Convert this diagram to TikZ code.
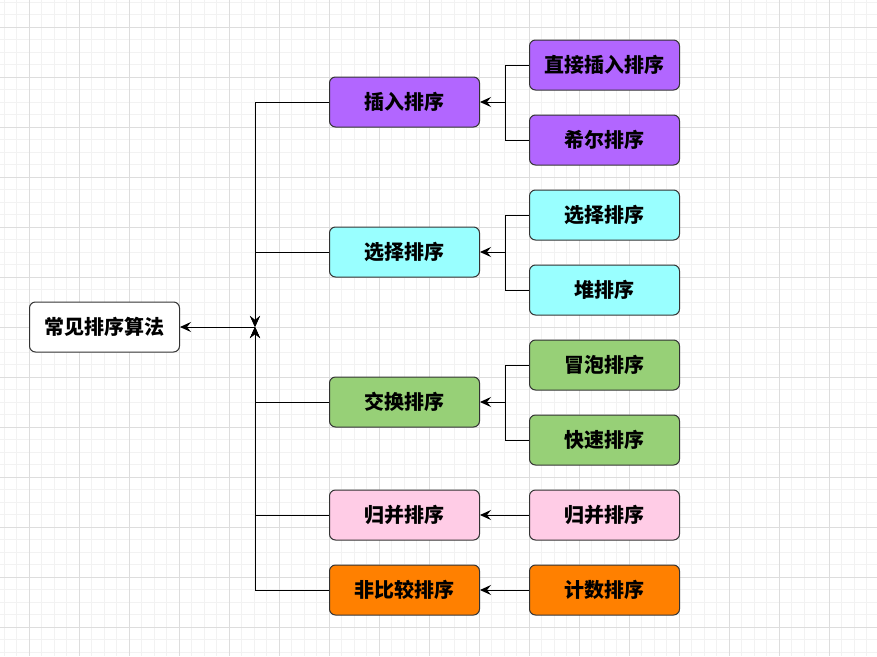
\documentclass[tikz,border=0pt]{standalone}
\usepackage{fontspec}
\newfontfamily\cjk{Noto Sans CJK SC}
\usetikzlibrary{arrows.meta}
\definecolor{gminor}{HTML}{F2F2F2}
\definecolor{gmajor}{HTML}{DDDDDD}
\definecolor{cpurple}{HTML}{B266FF}
\definecolor{ccyan}{HTML}{99FFFF}
\definecolor{cgreen}{HTML}{97D077}
\definecolor{cpink}{HTML}{FFCCE6}
\definecolor{corange}{HTML}{FF8000}
\definecolor{cborder}{HTML}{333333}
\tikzset{
  box/.style={draw=cborder, line width=1pt, rounded corners=6pt, minimum width=150pt, minimum height=50pt, inner sep=0pt, font=\cjk\bfseries\fontsize{20pt}{22pt}\selectfont, text=black},
  conn/.style={line width=1pt, draw=black, -{Stealth[length=11pt,width=10pt,inset=4pt]}},
  plain/.style={line width=1pt, draw=black}
}
\begin{document}
\begin{tikzpicture}[x=1pt,y=-1pt]
\useasboundingbox (0,0) rectangle (877,656);
\fill[white] (0,0) rectangle (877,656);
\foreach \i in {0,...,70} {
  \draw[gminor, line width=1pt] ({4+12.5*\i},0) -- ({4+12.5*\i},656);
}
\foreach \i in {0,...,53} {
  \draw[gminor, line width=1pt] (0,{2+12.5*\i}) -- (877,{2+12.5*\i});
}
\foreach \i in {0,...,17} {
  \draw[gmajor, line width=1pt] ({29+50*\i},0) -- ({29+50*\i},656);
}
\foreach \i in {0,...,13} {
  \draw[gmajor, line width=1pt] (0,{27+50*\i}) -- (877,{27+50*\i});
}
% root
\node[box, fill=white] (root) at (104.5,327) {常见排序算法};
\coordinate (j) at (255,327);
% level 1
\node[box, fill=cpurple] (ins) at (404.5,102) {插入排序};
\node[box, fill=ccyan] (sel) at (404.5,252) {选择排序};
\node[box, fill=cgreen] (swp) at (404.5,402) {交换排序};
\node[box, fill=cpink] (mrg) at (404.5,515) {归并排序};
\node[box, fill=corange] (ncp) at (404.5,590) {非比较排序};
% level 2
\node[box, fill=cpurple] (ins1) at (604.5,65) {直接插入排序};
\node[box, fill=cpurple] (ins2) at (604.5,140) {希尔排序};
\node[box, fill=ccyan] (sel1) at (604.5,215) {选择排序};
\node[box, fill=ccyan] (sel2) at (604.5,290) {堆排序};
\node[box, fill=cgreen] (swp1) at (604.5,365) {冒泡排序};
\node[box, fill=cgreen] (swp2) at (604.5,440) {快速排序};
\node[box, fill=cpink] (mrg1) at (604.5,515) {归并排序};
\node[box, fill=corange] (ncp1) at (604.5,590) {计数排序};
% level2 -> level1
\coordinate (bi) at (505,102);
\coordinate (bs) at (505,252);
\coordinate (bw) at (505,402);
\draw[plain] (ins1.west) -| (bi);
\draw[plain] (ins2.west) -| (bi);
\draw[conn] (bi) -- (ins.east);
\draw[plain] (sel1.west) -| (bs);
\draw[plain] (sel2.west) -| (bs);
\draw[conn] (bs) -- (sel.east);
\draw[plain] (swp1.west) -| (bw);
\draw[plain] (swp2.west) -| (bw);
\draw[conn] (bw) -- (swp.east);
\draw[conn] (mrg1.west) -- (mrg.east);
\draw[conn] (ncp1.west) -- (ncp.east);
% level1 -> root
\draw[conn] (ins.west) -| (j);
\draw[conn] (sel.west) -| (j);
\draw[conn] (swp.west) -| (j);
\draw[conn] (mrg.west) -| (j);
\draw[conn] (ncp.west) -| (j);
\draw[conn] (j) -- (root.east);
\end{tikzpicture}
\end{document}
